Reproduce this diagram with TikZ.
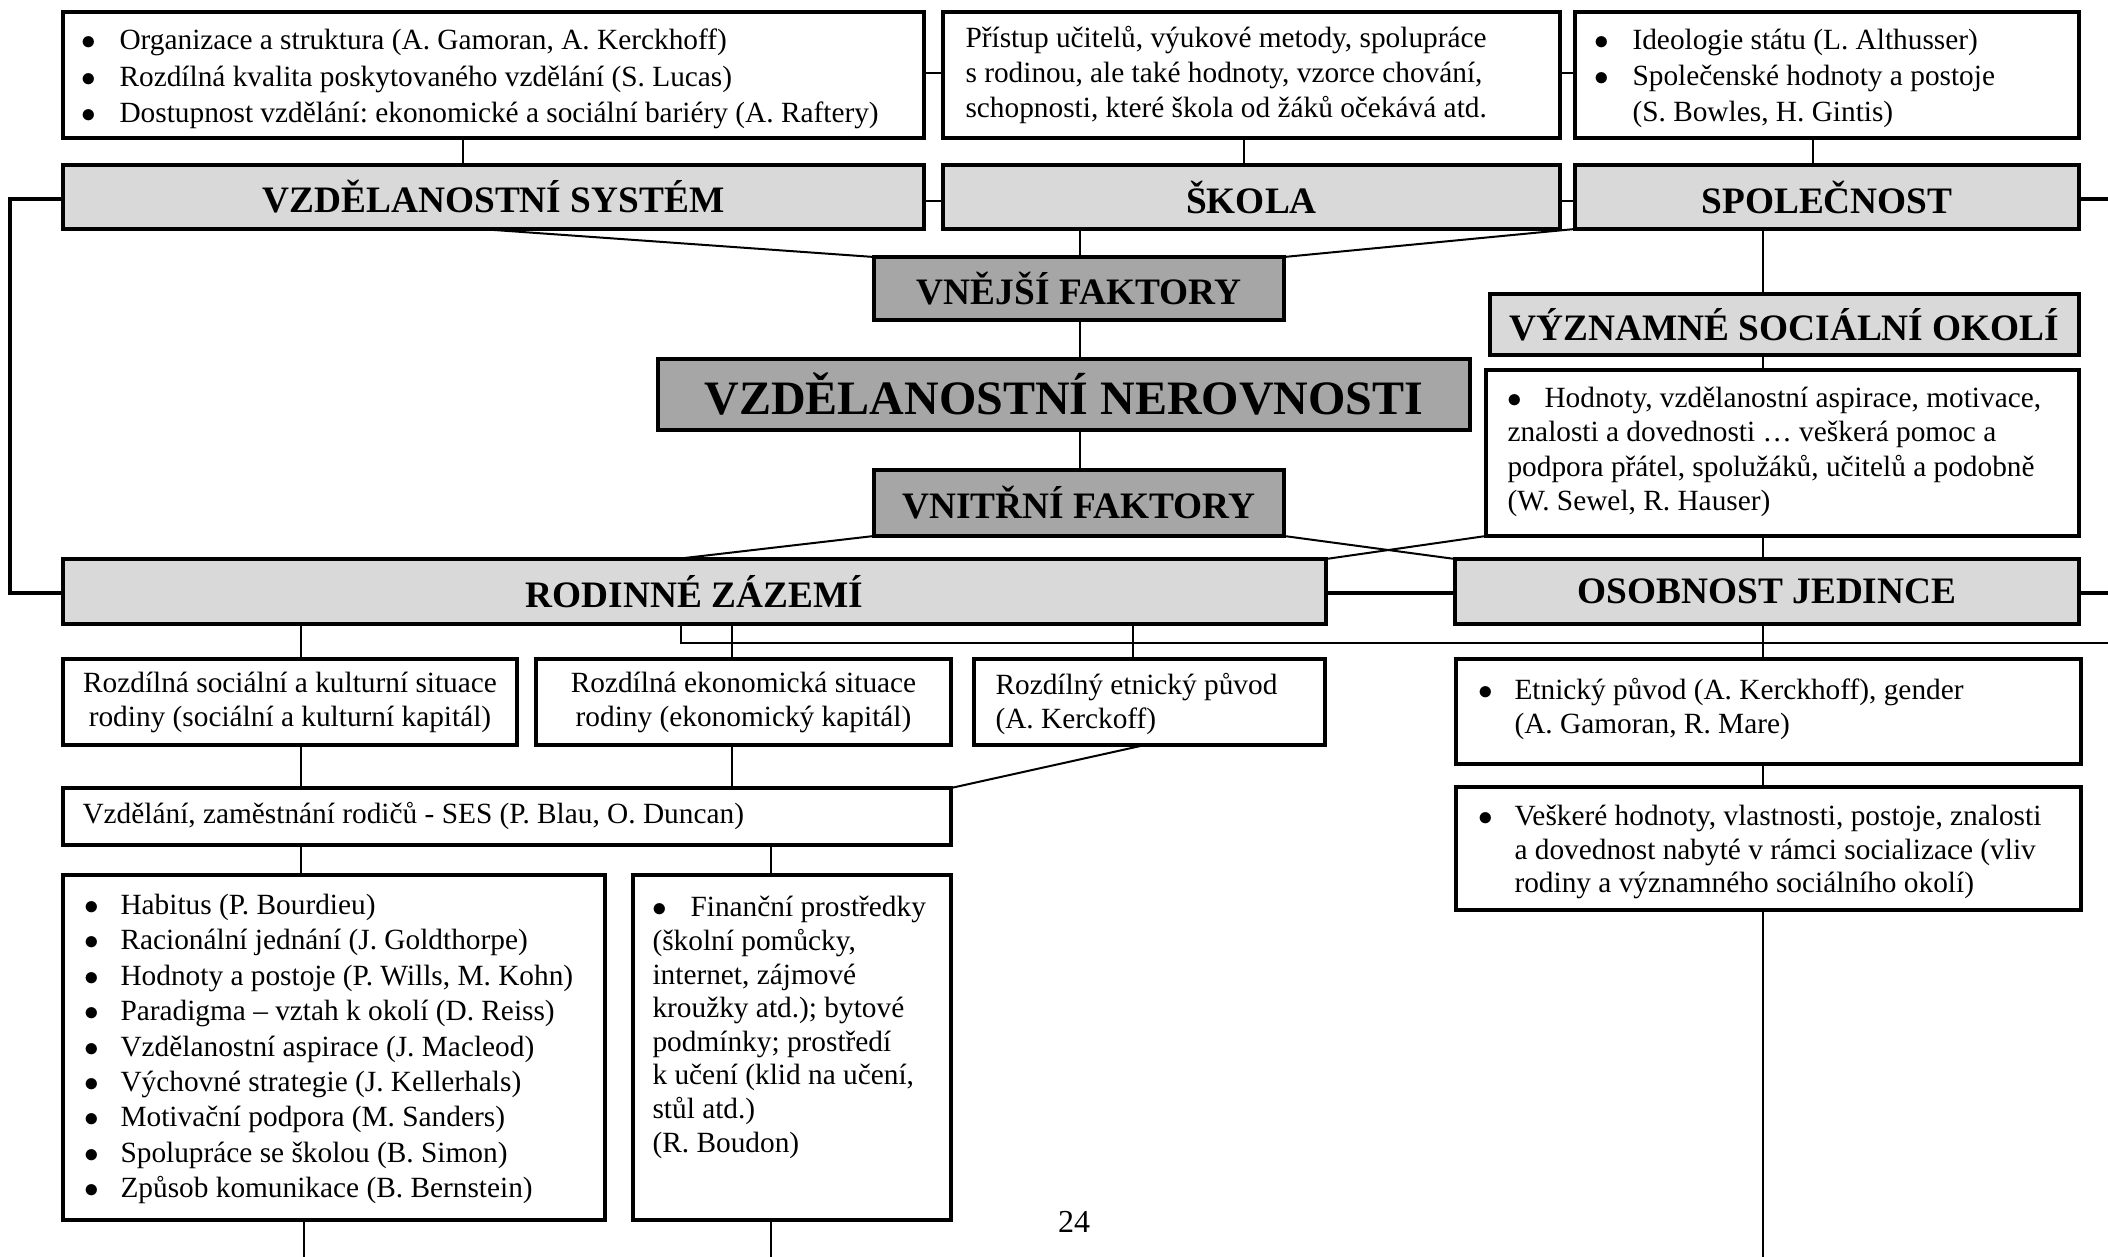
\documentclass[tikz,border=0pt]{standalone}
\usepackage{fontspec}
\setmainfont{Liberation Serif}
\usetikzlibrary{backgrounds}
\frenchspacing
\newlength\pxu
\setlength\pxu{0.375pt}
\definecolor{hdrlight}{HTML}{D9D9D9}
\definecolor{hdrdark}{HTML}{A6A6A6}
% bullet with hanging text, and the indent of a continued line
\newcommand\bul[1][38]{\makebox[#1\pxu][l]{$\bullet$}}
\newcommand\cont[1][38]{\hspace*{#1\pxu}}
\tikzset{
  % a box given by its corners (x1,y1) and (x2,y2)
  span/.style n args={4}{at={({(#1+#3)/2},{(#2+#4)/2})},
    minimum width={(#3-#1)*0.375pt}, minimum height={(#4-#2)*0.375pt}},
  box/.style={draw, line width=1.5pt, inner sep=0pt, outer sep=0pt, fill=white},
  hdr/.style={box, fill=hdrlight, font=\bfseries\fontsize{14}{16}\selectfont},
  core/.style={box, fill=hdrdark, font=\bfseries\fontsize{14}{16}\selectfont},
  txt/.style={inner sep=0pt, align=left, font=\fontsize{11}{13.5}\selectfont},
  link/.style={line width=0.5pt},
  slant/.style={line width=0.75pt},
  frame/.style={line width=1.3pt},
}
\begin{document}
\begin{tikzpicture}[x=0.375pt, y=-0.375pt]
\useasboundingbox (0,0) rectangle (2108,1257);

% guide coordinates for connector positions
\coordinate (x10) at (10,0);
\coordinate (x301) at (301,0);
\coordinate (x304) at (304,0);
\coordinate (x463) at (463,0);
\coordinate (x480) at (480,0);
\coordinate (x676) at (676,0);
\coordinate (x681) at (681,0);
\coordinate (x732) at (732,0);
\coordinate (x771) at (771,0);
\coordinate (x1080) at (1080,0);
\coordinate (x1133) at (1133,0);
\coordinate (x1145) at (1145,0);
\coordinate (x1244) at (1244,0);
\coordinate (x1763) at (1763,0);
\coordinate (x1813) at (1813,0);
\coordinate (y73) at (0,73);
\coordinate (y199) at (0,199);
\coordinate (y201) at (0,201);
\coordinate (y593) at (0,593);
\coordinate (bot) at (0,1257);
\coordinate (r199) at (2108,199);
\coordinate (r593) at (2108,593);
\coordinate (r643) at (2108,643);

% top row: description boxes
\node[box, span={63}{12}{924}{138}] (b1) {};
\node[txt, anchor=west, font=\fontsize{11}{13.75}\selectfont] (t1) at (81,79)
  {\bul Organizace a struktura (A. Gamoran, A. Kerckhoff)\\
   \bul Rozdílná kvalita poskytovaného vzdělání (S. Lucas)\\
   \bul Dostupnost vzdělání: ekonomické a sociální bariéry (A. Raftery)};
\node[box, span={943}{12}{1560}{138}] (b2) {};
\node[txt, anchor=west, font=\fontsize{11}{13.2}\selectfont] (t2) at (965,75)
  {Přístup učitelů, výukové metody, spolupráce\\
   s rodinou, ale také hodnoty, vzorce chování,\\
   schopnosti, které škola od žáků očekává atd.};
\node[box, span={1575}{12}{2079}{138}] (b3) {};
\node[txt, anchor=west, font=\fontsize{11}{13.5}\selectfont] (t3) at (1594,78)
  {\bul Ideologie státu (L. Althusser)\\
   \bul Společenské hodnoty a postoje\\
   \cont(S. Bowles, H. Gintis)};

% header row
\node[hdr, span={63}{165}{924}{229}] (sys) {VZDĚLANOSTNÍ SYSTÉM};
\node[hdr, span={943}{165}{1560}{229}] (skola) {ŠKOLA};
\node[hdr, span={1575}{165}{2079}{229}] (spol) {SPOLEČNOST};

% central column
\node[core, span={874}{257}{1284}{320}] (vnej) {VNĚJŠÍ FAKTORY};
\node[core, span={658}{359}{1470}{430}, font=\bfseries\fontsize{18}{20}\selectfont] (ner) {VZDĚLANOSTNÍ NEROVNOSTI};
\node[core, span={874}{470}{1284}{536}] (vnit) {VNITŘNÍ FAKTORY};

% significant social surroundings
\node[hdr, span={1490}{294}{2079}{355}] (vyz) {VÝZNAMNÉ SOCIÁLNÍ OKOLÍ};
\node[box, span={1486}{370}{2079}{536}] (hodn) {};
\node[txt, anchor=west, font=\fontsize{11}{12.9}\selectfont] (t4) at (1507,452)
  {\bul[37]Hodnoty, vzdělanostní aspirace, motivace,\\
   znalosti a dovednosti … veškerá pomoc a\\
   podpora přátel, spolužáků, učitelů a podobně\\
   (W. Sewel, R. Hauser)};

% family and individual
\node[hdr, span={63}{559}{1326}{624}] (rod) {RODINNÉ ZÁZEMÍ};
\node[hdr, span={1455}{559}{2079}{624}] (osob) {OSOBNOST JEDINCE};

\node[box, span={63}{659}{517}{745}, align=center, font=\fontsize{11}{12.75}\selectfont] (boxA)
  {Rozdílná sociální a kulturní situace\\rodiny (sociální a kulturní kapitál)};
\node[box, span={536}{659}{951}{745}, align=center, font=\fontsize{11}{12.75}\selectfont] (boxB)
  {Rozdílná ekonomická situace\\rodiny (ekonomický kapitál)};
\node[box, span={974}{659}{1325}{745}] (boxC) {};
\node[txt, anchor=west, font=\fontsize{11}{12.75}\selectfont] (t5) at (995,704)
  {Rozdílný etnický původ\\(A. Kerckoff)};

\node[box, span={63}{788}{951}{845}] (ses) {};
\node[txt, anchor=west] (t6) at (82,816)
  {Vzdělání, zaměstnání rodičů - SES (P. Blau, O. Duncan)};

\node[box, span={63}{875}{605}{1220}] (hab) {};
\node[txt, anchor=west, font=\fontsize{11}{13.3}\selectfont] (t7) at (84,1049)
  {\bul[36]Habitus (P. Bourdieu)\\
   \bul[36]Racionální jednání (J. Goldthorpe)\\
   \bul[36]Hodnoty a postoje (P. Wills, M. Kohn)\\
   \bul[36]Paradigma – vztah k okolí (D. Reiss)\\
   \bul[36]Vzdělanostní aspirace (J. Macleod)\\
   \bul[36]Výchovné strategie (J. Kellerhals)\\
   \bul[36]Motivační podpora (M. Sanders)\\
   \bul[36]Spolupráce se školou (B. Simon)\\
   \bul[36]Způsob komunikace (B. Bernstein)};

\node[box, span={633}{875}{951}{1220}] (fin) {};
\node[txt, anchor=north west, font=\fontsize{11}{12.6}\selectfont] (t8) at (652,896)
  {\bul[38]Finanční prostředky\\
   (školní pomůcky,\\
   internet, zájmové\\
   kroužky atd.); bytové\\
   podmínky; prostředí\\
   k učení (klid na učení,\\
   stůl atd.)\\
   (R. Boudon)};

\node[box, span={1456}{659}{2081}{764}] (etn) {};
\node[txt, anchor=north west, font=\fontsize{11}{12.75}\selectfont] (t9) at (1478,678)
  {\bul[36]Etnický původ (A. Kerckhoff), gender\\
   \cont[36](A. Gamoran, R. Mare)};

\node[box, span={1456}{787}{2081}{910}] (ves) {};
\node[txt, anchor=west, font=\fontsize{11}{12.6}\selectfont] (t10) at (1478,852)
  {\bul[36]Veškeré hodnoty, vlastnosti, postoje, znalosti\\
   \cont[36]a dovednost nabyté v rámci socializace (vliv\\
   \cont[36]rodiny a významného sociálního okolí)};

\node[inner sep=0pt, font=\fontsize{12}{14}\selectfont] (pg) at (1074,1222) {24};

\begin{scope}[on background layer]
  \fill[white] (0,0) rectangle (2108,1257);
  % framing lines
  \draw[frame] (rod.west |- y593) -| (x10 |- y199) -- (sys.west |- y199);
  \draw[frame] (spol.east |- y199) -- (r199);
  \draw[frame] (rod.east |- y593) -- (osob.west |- y593);
  \draw[frame] (osob.east |- y593) -- (r593);
  % top row
  \draw[link] (b1.east |- y73) -- (b2.west |- y73);
  \draw[link] (b2.east |- y73) -- (b3.west |- y73);
  \draw[link] (sys.east |- y201) -- (skola.west |- y201);
  \draw[link] (skola.east |- y201) -- (spol.west |- y201);
  \draw[link] (b1.south -| x463) -- (sys.north -| x463);
  \draw[link] (b2.south -| x1244) -- (skola.north -| x1244);
  \draw[link] (b3.south -| x1813) -- (spol.north -| x1813);
  % external factors
  \draw[link] (skola.south -| x1080) -- (vnej.north -| x1080);
  \draw[slant] (sys.south -| x480) -- (vnej.north west);
  \draw[slant] (spol.south west) -- (vnej.north east);
  \draw[link] (vnej.south -| x1080) -- (ner.north -| x1080);
  \draw[link] (ner.south -| x1080) -- (vnit.north -| x1080);
  % internal factors
  \draw[slant] (vnit.south west) -- (rod.north -| x676);
  \draw[slant] (vnit.south east) -- (osob.north west);
  \draw[slant] (hodn.south west) -- (rod.north east);
  % right column
  \draw[link] (spol.south -| x1763) -- (vyz.north -| x1763);
  \draw[link] (vyz.south -| x1763) -- (hodn.north -| x1763);
  \draw[link] (hodn.south -| x1763) -- (osob.north -| x1763);
  \draw[link] (osob.south -| x1763) -- (etn.north -| x1763);
  \draw[link] (etn.south -| x1763) -- (ves.north -| x1763);
  \draw[link] (ves.south -| x1763) -- (x1763 |- bot);
  % family branch
  \draw[link] (rod.south -| x681) |- (r643);
  \draw[link] (rod.south -| x301) -- (boxA.north -| x301);
  \draw[link] (rod.south -| x732) -- (boxB.north -| x732);
  \draw[link] (rod.south -| x1133) -- (boxC.north -| x1133);
  \draw[link] (boxA.south -| x301) -- (ses.north -| x301);
  \draw[link] (boxB.south -| x732) -- (ses.north -| x732);
  \draw[slant] (boxC.south -| x1145) -- (ses.north east);
  \draw[link] (ses.south -| x301) -- (hab.north -| x301);
  \draw[link] (ses.south -| x771) -- (fin.north -| x771);
  \draw[link] (hab.south -| x304) -- (x304 |- bot);
  \draw[link] (fin.south -| x771) -- (x771 |- bot);
\end{scope}
\end{tikzpicture}
\end{document}
